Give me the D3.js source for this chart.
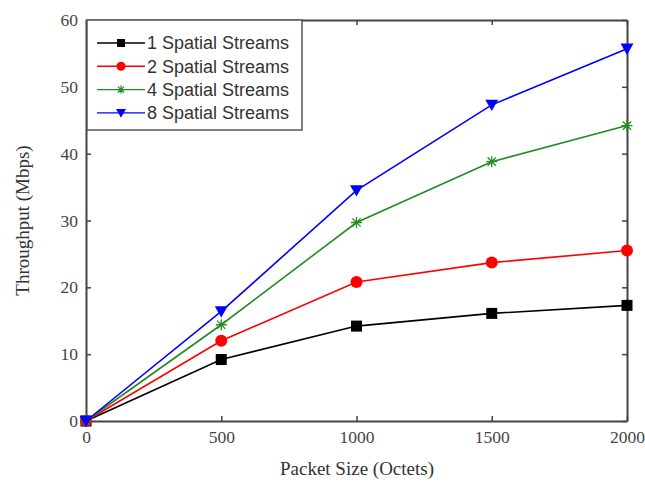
<!DOCTYPE html>
<html lang="en">
<head>
<meta charset="UTF-8">
<title>Throughput vs Packet Size</title>
<script src="https://d3js.org/d3.v7.min.js"></script>
<style>
  body { margin: 0; background: #fff; }
  .tick text { font-family: "Liberation Serif", "Times New Roman", serif; font-size: 17.5px; fill: #444; }
  .axis-label { font-family: "Liberation Serif", "Times New Roman", serif; font-size: 19px; fill: #333; }
  .legend text { font-family: "Liberation Sans", Arial, sans-serif; font-size: 18px; fill: #333; }
</style>
</head>
<body>
<svg id="chart" width="645" height="483"></svg>
<script>
const packetSizes = [0, 500, 1000, 1500, 2000];
const seriesNames = ["1 Spatial Streams", "2 Spatial Streams", "4 Spatial Streams", "8 Spatial Streams"];
const stream1 = [0, 9.2, 14.2, 16.1, 17.3];
const stream2 = [0, 12.0, 20.8, 23.7, 25.5];
const stream4 = [0, 14.4, 29.7, 38.8, 44.2];
const stream8 = [0, 16.4, 34.5, 47.3, 55.7];
const xTicks = [0, 500, 1000, 1500, 2000];
const yTicks = [0, 10, 20, 30, 40, 50, 60];

const colors = ["#000000", "#ff0000", "#228b22", "#0000ff"];
const markers = ["square", "circle", "star", "triangle"];
const allValues = [stream1, stream2, stream4, stream8];

const margin = { top: 20, right: 18, bottom: 62, left: 86 };
const width = 645, height = 483;
const innerW = width - margin.left - margin.right;
const innerH = height - margin.top - margin.bottom;

const svg = d3.select("#chart");
const g = svg.append("g").attr("transform", `translate(${margin.left},${margin.top})`);

const x = d3.scaleLinear().domain([0, 2000]).range([0, innerW]);
const y = d3.scaleLinear().domain([0, 60]).range([innerH, 0]);

// axes with inward ticks on all sides
const axisColor = "#444";
const fmt = d3.format("d");
const axisBottomG = g.append("g").attr("transform", `translate(0,${innerH})`)
  .call(d3.axisBottom(x).tickValues(xTicks).tickFormat(fmt).tickSizeInner(-5).tickSizeOuter(0).tickPadding(10));
const axisLeftG = g.append("g")
  .call(d3.axisLeft(y).tickValues(yTicks).tickFormat(fmt).tickSizeInner(-5).tickSizeOuter(0).tickPadding(8));
const axisTopG = g.append("g")
  .call(d3.axisTop(x).tickValues(xTicks).tickSizeInner(-5).tickSizeOuter(0).tickFormat(""));
const axisRightG = g.append("g").attr("transform", `translate(${innerW},0)`)
  .call(d3.axisRight(y).tickValues(yTicks).tickSizeInner(-5).tickSizeOuter(0).tickFormat(""));
[axisBottomG, axisLeftG, axisTopG, axisRightG].forEach(a => {
  a.selectAll(".domain").attr("stroke", axisColor).attr("stroke-width", 2);
  a.selectAll(".tick line").attr("stroke", axisColor).attr("stroke-width", 1.5);
});

// lines and markers
const line = d3.line().x((d, i) => x(packetSizes[i])).y(d => y(d));

function drawMarker(sel, type, color, size) {
  if (type === "square") {
    sel.append("rect").attr("x", -size / 2).attr("y", -size / 2)
      .attr("width", size).attr("height", size).attr("fill", color);
  } else if (type === "circle") {
    sel.append("circle").attr("r", size / 2 + 0.5).attr("fill", color);
  } else if (type === "star") {
    const r = size / 2;
    sel.append("path")
      .attr("d", `M${-r},0H${r}M0,${-r}V${r}M${-r*0.75},${-r*0.75}L${r*0.75},${r*0.75}M${-r*0.75},${r*0.75}L${r*0.75},${-r*0.75}`)
      .attr("stroke", color).attr("stroke-width", 1.3).attr("fill", "none");
  } else if (type === "triangle") {
    const r = size / 2 + 1;
    sel.append("path").attr("d", `M${-r},${-r*0.8}L${r},${-r*0.8}L0,${r*0.95}Z`).attr("fill", color);
  }
}

allValues.forEach((vals, si) => {
  g.append("path").datum(vals)
    .attr("fill", "none").attr("stroke", colors[si]).attr("stroke-width", 1.6)
    .attr("d", line);
  vals.forEach((v, i) => {
    const m = g.append("g").attr("transform", `translate(${x(packetSizes[i])},${y(v)})`);
    drawMarker(m, markers[si], colors[si], 11);
  });
});

// axis labels
svg.append("text").attr("class", "axis-label")
  .attr("x", 357).attr("y", 475).attr("text-anchor", "middle")
  .text("Packet Size (Octets)");
svg.append("text").attr("class", "axis-label")
  .attr("transform", `translate(29,${margin.top + innerH / 2}) rotate(-90)`)
  .attr("text-anchor", "middle")
  .text("Throughput (Mbps)");

// legend
const legend = g.append("g").attr("class", "legend");
legend.append("rect").attr("x", 1).attr("y", 0).attr("width", 215).attr("height", 110)
  .attr("fill", "#fff").attr("stroke", "#555").attr("stroke-width", 1.5);
seriesNames.forEach((name, i) => {
  const ly = 23 + i * 23.3;
  const row = legend.append("g").attr("transform", `translate(0,${ly})`);
  row.append("line").attr("x1", 11).attr("x2", 59).attr("y1", 0).attr("y2", 0)
    .attr("stroke", colors[i]).attr("stroke-width", 1.4);
  const m = row.append("g").attr("transform", "translate(35,0)");
  drawMarker(m, markers[i], colors[i], 8);
  row.append("text").attr("x", 61).attr("y", 0).attr("dy", "0.35em").text(name);
});
</script>
</body>
</html>
